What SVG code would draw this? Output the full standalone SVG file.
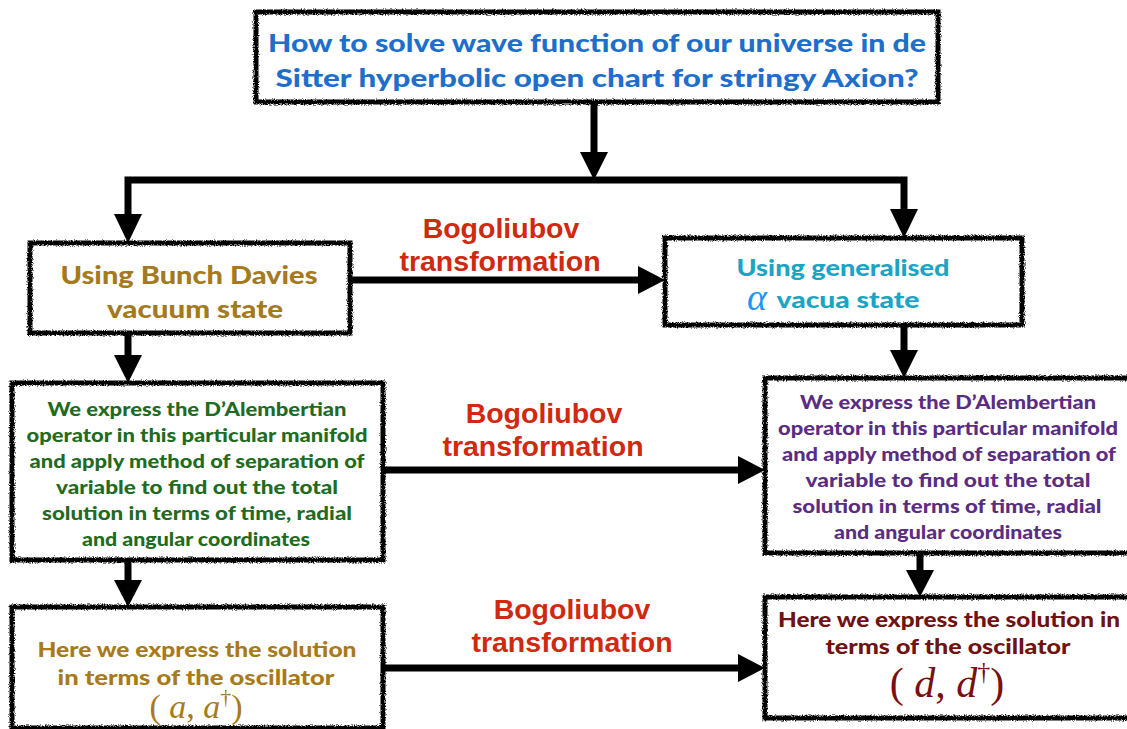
<svg xmlns="http://www.w3.org/2000/svg" width="1127" height="729" viewBox="0 0 1127 729">
<style>
.box{fill:#fff;stroke:#000;stroke-width:5;filter:url(#rough)}
.c{fill:none;stroke:#000;stroke-width:7}
.h{fill:#000}
.t{font-family:Lato,"DejaVu Sans",sans-serif;font-weight:900;text-anchor:middle}
.lab{font-family:"Liberation Sans",Arial,sans-serif;font-weight:bold;font-size:28.5px;fill:#d0290f;text-anchor:middle}
.m{font-family:"Liberation Serif","DejaVu Serif",serif;text-anchor:middle}
</style>
<defs>
<filter id="rough" x="-5%" y="-10%" width="110%" height="120%">
<feTurbulence type="fractalNoise" baseFrequency="0.9" numOctaves="2" seed="3" result="n"/>
<feDisplacementMap in="SourceGraphic" in2="n" scale="4" xChannelSelector="R" yChannelSelector="G"/>
</filter>
</defs>
<rect width="1127" height="729" fill="#fff"/>

<g id="connectors">
<path class="c" d="M594,102 V156"/>
<polygon class="h" points="580,152 608,152 594,180"/>
<path class="c" d="M128,216 V180 H904 V211" stroke-linejoin="miter"/>
<polygon class="h" points="114,214 142,214 128,243"/>
<polygon class="h" points="890,209 918,209 904,238"/>
<path class="c" d="M128,333 V357"/>
<polygon class="h" points="114,355 142,355 128,383"/>
<path class="c" d="M904,325 V352"/>
<polygon class="h" points="890,350 918,350 904,378"/>
<path class="c" d="M128,560 V582"/>
<polygon class="h" points="114,580 142,580 128,607"/>
<path class="c" d="M920,553 V572"/>
<polygon class="h" points="906,570 934,570 920,597"/>
<path class="c" d="M350,280 H640"/>
<polygon class="h" points="638,266 638,294 665,280"/>
<path class="c" d="M383,470 H740"/>
<polygon class="h" points="738,456 738,484 765,470"/>
<path class="c" d="M383,668 H740"/>
<polygon class="h" points="738,654 738,682 765,668"/>
<text class="lab" x="501" y="238">Bogoliubov</text>
<text class="lab" x="500" y="271">transformation</text>
<text class="lab" x="544" y="423">Bogoliubov</text>
<text class="lab" x="543" y="456">transformation</text>
<text class="lab" x="572" y="619">Bogoliubov</text>
<text class="lab" x="572" y="652">transformation</text>
</g>

<g id="top">
<rect class="box" x="256" y="12" width="682" height="90"/>
<text class="t" font-size="25" fill="#1e6fcb" x="597" y="52" textLength="658" lengthAdjust="spacingAndGlyphs">How to solve wave function of our universe in de</text>
<text class="t" font-size="25" fill="#1e6fcb" x="597" y="87" textLength="643" lengthAdjust="spacingAndGlyphs">Sitter hyperbolic open chart for stringy Axion?</text>
</g>

<g id="bunch-davies">
<rect class="box" x="30" y="243" width="320" height="90"/>
<text class="t" font-size="25" fill="#a57a1e" x="189" y="284" textLength="257" lengthAdjust="spacingAndGlyphs">Using Bunch Davies</text>
<text class="t" font-size="25" fill="#a57a1e" x="195" y="318" textLength="176" lengthAdjust="spacingAndGlyphs">vacuum state</text>
</g>

<g id="alpha-vacua">
<rect class="box" x="665" y="238" width="357" height="87"/>
<text class="t" font-size="23" fill="#1aa5c5" x="843" y="276" textLength="213" lengthAdjust="spacingAndGlyphs">Using generalised</text>
<text class="m" font-size="38" font-style="italic" fill="#2196f3" x="757" y="310">α</text>
<text class="t" font-size="23" fill="#1aa5c5" x="848" y="308" textLength="143" lengthAdjust="spacingAndGlyphs">vacua state</text>
</g>

<g id="left-dalembertian">
<rect class="box" x="12" y="383" width="371" height="177"/>
<g class="t" font-size="18" fill="#1f6b22">
<text x="197" y="416" textLength="299" lengthAdjust="spacingAndGlyphs">We express the D’Alembertian</text>
<text x="197" y="442" textLength="341" lengthAdjust="spacingAndGlyphs">operator in this particular manifold</text>
<text x="197" y="468" textLength="335" lengthAdjust="spacingAndGlyphs">and apply method of separation of</text>
<text x="197" y="494" textLength="282" lengthAdjust="spacingAndGlyphs">variable to find out the total</text>
<text x="197" y="520" textLength="310" lengthAdjust="spacingAndGlyphs">solution in terms of time, radial</text>
<text x="196" y="546" textLength="228" lengthAdjust="spacingAndGlyphs">and angular coordinates</text>
</g>
</g>

<g id="right-dalembertian">
<rect class="box" x="765" y="378" width="370" height="175"/>
<g class="t" font-size="18" fill="#5b2d82">
<text x="948" y="409" textLength="296" lengthAdjust="spacingAndGlyphs">We express the D’Alembertian</text>
<text x="948" y="435" textLength="340" lengthAdjust="spacingAndGlyphs">operator in this particular manifold</text>
<text x="949" y="461" textLength="334" lengthAdjust="spacingAndGlyphs">and apply method of separation of</text>
<text x="948" y="487" textLength="285" lengthAdjust="spacingAndGlyphs">variable to find out the total</text>
<text x="947" y="513" textLength="309" lengthAdjust="spacingAndGlyphs">solution in terms of time, radial</text>
<text x="948" y="539" textLength="228" lengthAdjust="spacingAndGlyphs">and angular coordinates</text>
</g>
</g>

<g id="left-oscillator">
<rect class="box" x="12" y="607" width="371" height="121"/>
<text class="t" font-size="20" fill="#a87a1a" x="197" y="657" textLength="319" lengthAdjust="spacingAndGlyphs">Here we express the solution</text>
<text class="t" font-size="20" fill="#a87a1a" x="196" y="685" textLength="277" lengthAdjust="spacingAndGlyphs">in terms of the oscillator</text>
<text class="m" font-size="34" fill="#a87a1a" x="196" y="718">( <tspan font-style="italic">a</tspan>, <tspan font-style="italic">a</tspan><tspan font-size="22" dy="-14">†</tspan><tspan dy="14">)</tspan></text>
</g>

<g id="right-oscillator">
<rect class="box" x="765" y="597" width="370" height="121"/>
<text class="t" font-size="20" fill="#6e1212" x="949" y="627" textLength="342" lengthAdjust="spacingAndGlyphs">Here we express the solution in</text>
<text class="t" font-size="20" fill="#6e1212" x="948" y="654" textLength="245" lengthAdjust="spacingAndGlyphs">terms of the oscillator</text>
<text class="m" font-size="42" fill="#7a0f0f" x="947" y="697">( <tspan font-style="italic">d</tspan>, <tspan font-style="italic">d</tspan><tspan font-size="26" dy="-17">†</tspan><tspan dy="17">)</tspan></text>
</g>
</svg>
